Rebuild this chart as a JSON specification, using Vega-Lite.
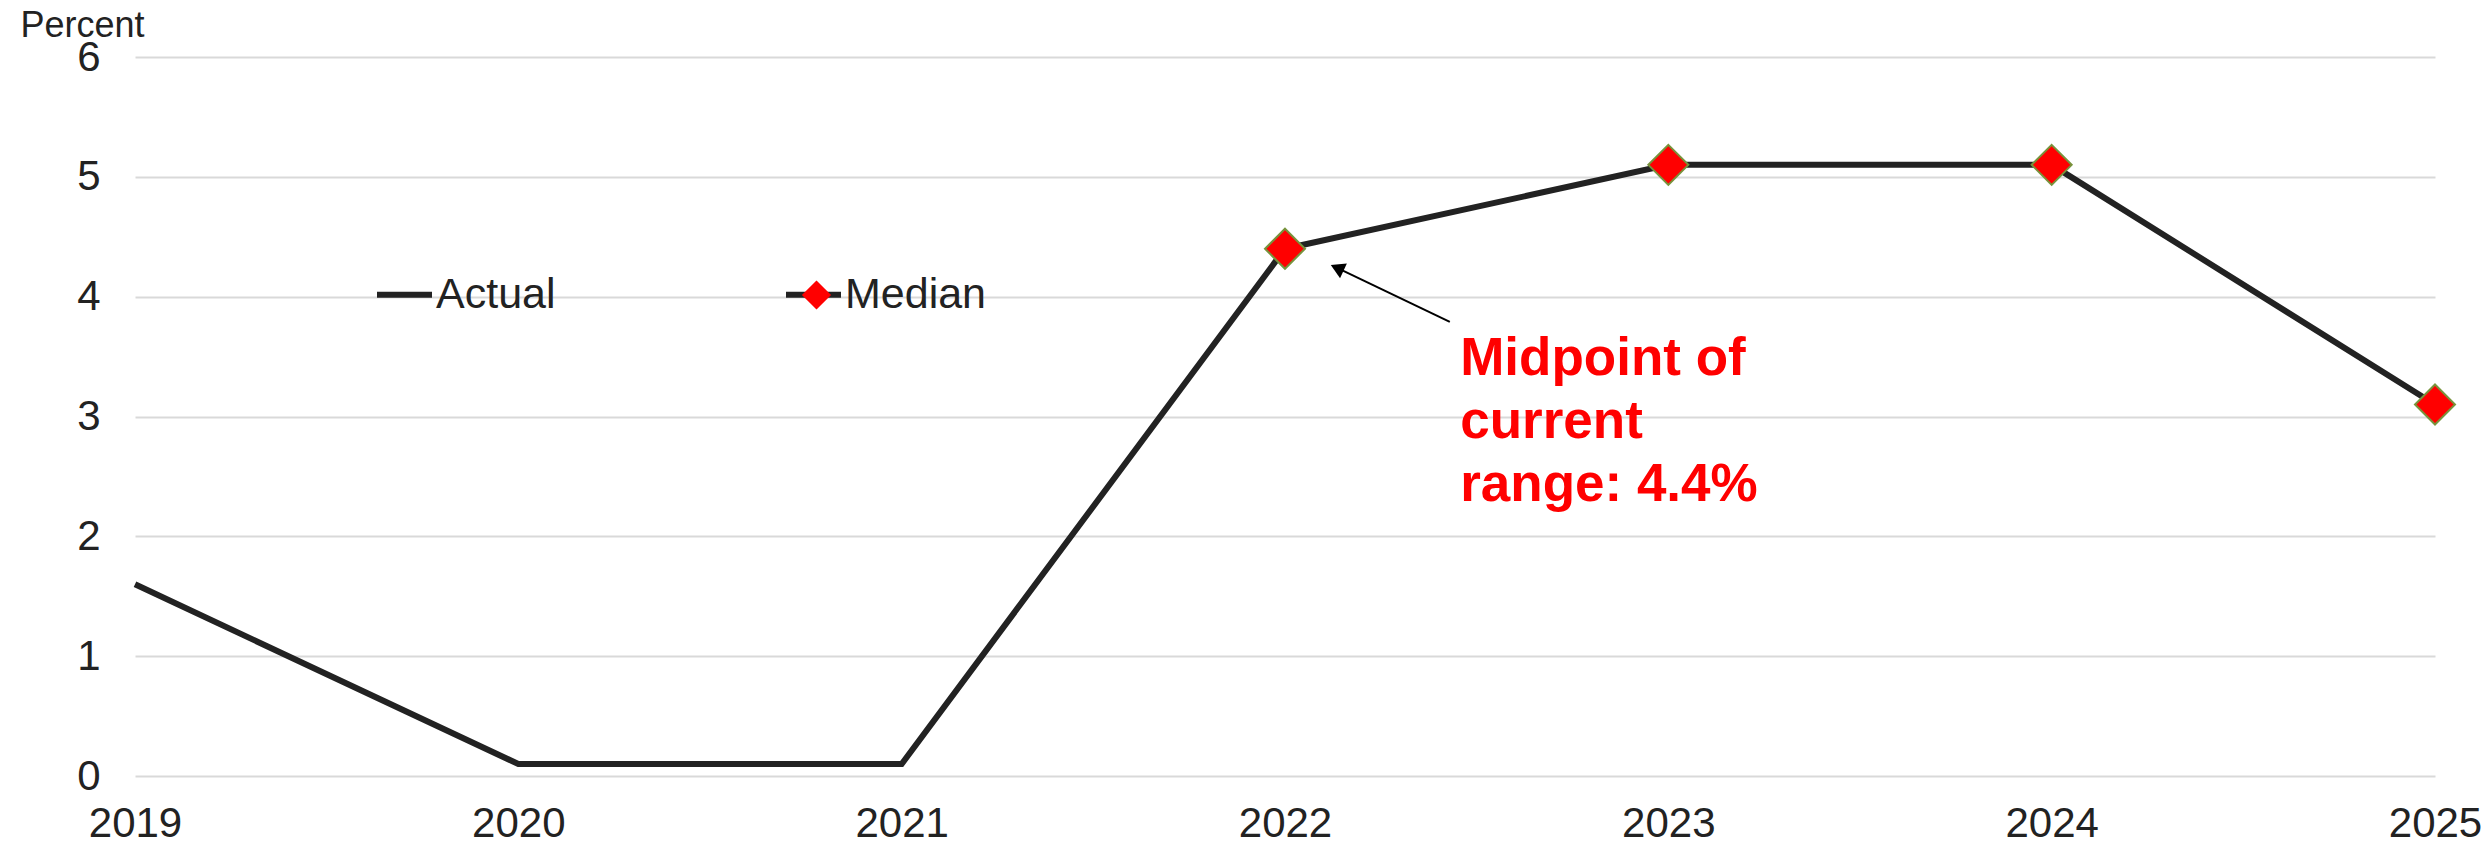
{
  "$schema": "https://vega.github.io/schema/vega-lite/v6.json",
  "autosize": {"type": "none"},
  "width": 2300,
  "height": 719,
  "padding": {"left": 135, "top": 57, "right": 53, "bottom": 69},
  "background": "#ffffff",
  "config": {
    "view": {"stroke": null},
    "font": "Liberation Sans",
    "axis": {"labelFont": "Liberation Sans", "titleFont": "Liberation Sans", "labelColor": "#222222", "titleColor": "#222222"},
    "legend": {"labelFont": "Liberation Sans"}
  },
  "data": {
    "values": [
      {"year": 2019, "rate": 1.6, "series": "Actual"},
      {"year": 2020, "rate": 0.1, "series": "Actual"},
      {"year": 2021, "rate": 0.1, "series": "Actual"},
      {"year": 2022, "rate": 4.4, "series": "Actual"},
      {"year": 2022, "rate": 4.4, "series": "Median"},
      {"year": 2023, "rate": 5.1, "series": "Median"},
      {"year": 2024, "rate": 5.1, "series": "Median"},
      {"year": 2025, "rate": 3.1, "series": "Median"}
    ]
  },
  "encoding": {
    "x": {
      "field": "year", "type": "quantitative",
      "scale": {"domain": [2019, 2025], "nice": false, "zero": false},
      "axis": {"values": [2019, 2020, 2021, 2022, 2023, 2024, 2025], "format": "d", "title": null, "grid": false, "domain": false, "ticks": false, "labelFontSize": 42, "labelPadding": 27, "labelFlush": false, "labelOverlap": false}
    },
    "y": {
      "field": "rate", "type": "quantitative",
      "scale": {"domain": [0, 6], "nice": false},
      "axis": {"values": [0, 1, 2, 3, 4, 5, 6], "title": "Percent", "titleAngle": 0, "titleFontSize": 36, "titleFontWeight": "normal", "titleAlign": "left", "titleBaseline": "alphabetic", "titleX": -115, "titleY": -21, "grid": true, "gridColor": "#d9d9d9", "gridWidth": 2, "domain": false, "ticks": false, "labelFontSize": 42, "labelPadding": 35}
    }
  },
  "layer": [
    {
      "mark": {"type": "line", "strokeWidth": 6, "strokeCap": "butt"},
      "encoding": {
        "color": {
          "field": "series", "type": "nominal",
          "scale": {"domain": ["Actual", "Median"], "range": ["#222222", "#222222"]},
          "legend": {"orient": "none", "legendX": 239, "legendY": 207, "direction": "horizontal", "title": null, "symbolType": "stroke", "symbolSize": 3025, "symbolStrokeWidth": 6, "symbolStrokeColor": "#222222", "labelFontSize": 43, "labelColor": "#222222", "labelOffset": 1, "columnPadding": 218, "padding": 0, "zindex": 0}
        }
      }
    },
    {
      "mark": {"type": "point", "filled": true, "fill": "#ff0000", "stroke": "#77933c", "strokeWidth": 2, "opacity": 1, "size": 5700},
      "encoding": {
        "shape": {
          "field": "series", "type": "nominal",
          "scale": {"range": ["M-1.09,0L-1.09,0M1.09,0L1.09,0", "M-1.09,0L-1.09,0M1.09,0L1.09,0M0,-0.53L0.53,0L0,0.53L-0.53,0Z"]},
          "legend": {"orient": "none", "legendX": 239, "legendY": 207, "direction": "horizontal", "title": null, "symbolSize": 3025, "symbolFillColor": "#ff0000", "symbolStrokeColor": "#77933c", "symbolStrokeWidth": 6, "labelFontSize": 43, "labelOpacity": 0, "labelOffset": 1, "columnPadding": 218, "padding": 0, "zindex": 1,
            "encode": {"symbols": {"update": {"strokeWidth": {"value": 1.5}, "fill": {"value": "#ff0000"}, "stroke": {"value": "#77933c"}}}}}
        }
      }
    },
    {
      "data": {"values": [{"x1": 2022.43, "y1": 3.79, "x2": 2022.136, "y2": 4.24}]},
      "mark": {"type": "rule", "color": "#000000", "strokeWidth": 2},
      "encoding": {
        "x": {"field": "x1", "type": "quantitative"},
        "y": {"field": "y1", "type": "quantitative"},
        "x2": {"field": "x2"},
        "y2": {"field": "y2"}
      }
    },
    {
      "data": {"values": [{"x": 2022.136, "y": 4.24}]},
      "mark": {"type": "point", "shape": "triangle-up", "filled": true, "color": "#000000", "size": 260, "angle": 295, "opacity": 1},
      "encoding": {
        "x": {"field": "x", "type": "quantitative"},
        "y": {"field": "y", "type": "quantitative"}
      }
    },
    {
      "data": {"values": [{"x": 2022.457, "y": 3.347, "label": "Midpoint of\ncurrent\nrange: 4.4%"}]},
      "mark": {"type": "text", "align": "left", "baseline": "alphabetic", "font": "Liberation Sans", "fontWeight": "bold", "fontSize": 53, "lineHeight": 63, "lineBreak": "\n", "color": "#ff0000"},
      "encoding": {
        "x": {"field": "x", "type": "quantitative"},
        "y": {"field": "y", "type": "quantitative"},
        "text": {"field": "label"}
      }
    }
  ]
}
